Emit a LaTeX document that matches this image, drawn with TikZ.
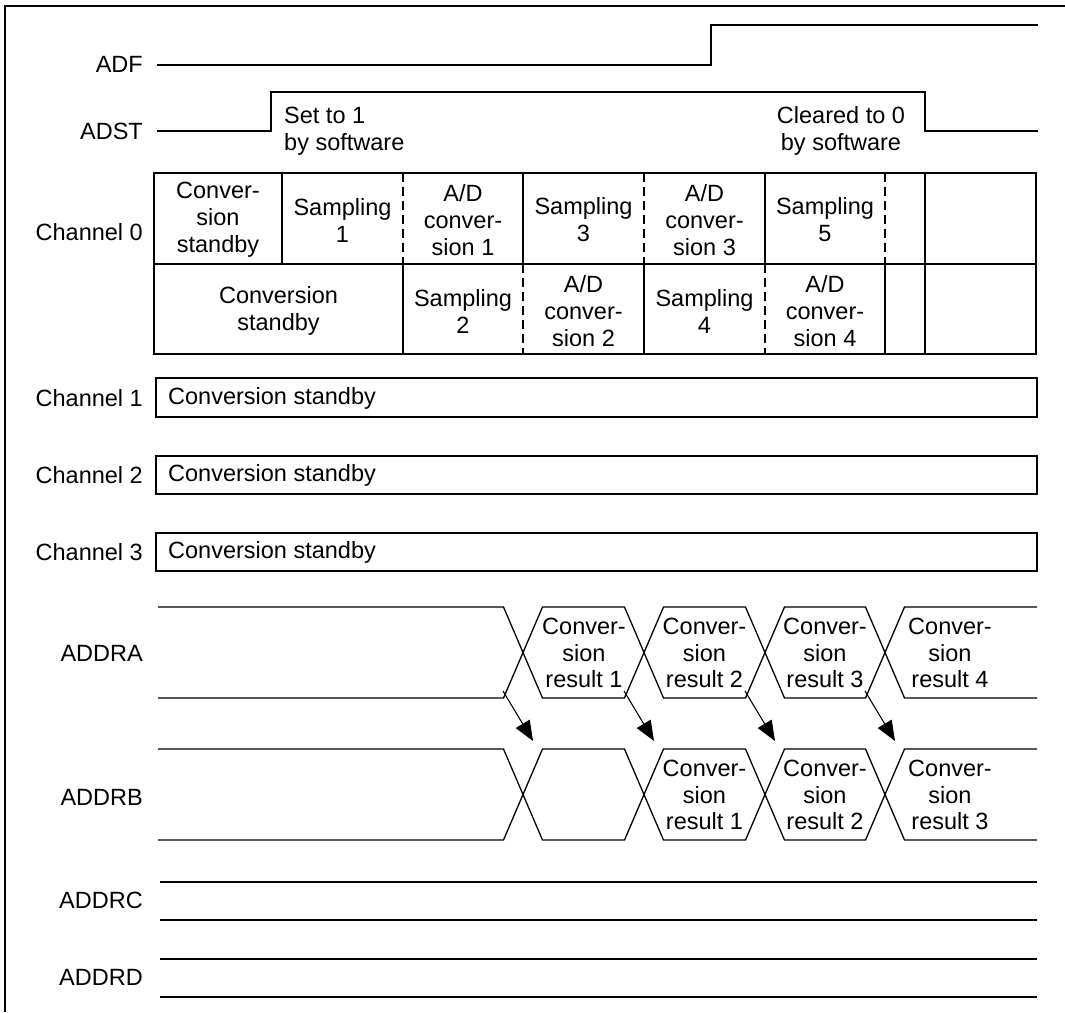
\documentclass[tikz,border=0pt]{standalone}
\usepackage{fontspec}
\setmainfont{Liberation Sans}
\usetikzlibrary{arrows.meta}
\begin{document}
\begin{tikzpicture}[x=1pt,y=-1pt,
  sig/.style={line width=1.3pt, line join=miter},
  lbl/.style={anchor=east, inner sep=0pt, font=\fontsize{23.5}{27.5}\selectfont},
  txt/.style={inner sep=0pt, align=center, font=\fontsize{23.5}{27}\selectfont},
  hx/.style={inner sep=0pt, align=center, font=\fontsize{23.5}{26.5}\selectfont},
  dsh/.style={line width=1.1pt, dash pattern=on 9pt off 5pt},
  arr/.style={line width=1.1pt, -{Triangle[length=20pt,width=16pt]}},
]
\useasboundingbox (0,0) rectangle (1065,1012);
\draw[line width=2.4pt] (5,1012) -- (5,6) -- (1065,6);

% labels
\node[lbl] (lADF) at (143,64) {ADF};
\node[lbl] (lADST) at (143,131) {ADST};
\node[lbl] (lch0) at (143,232) {Channel 0};
\node[lbl] (lch1) at (143,398) {Channel 1};
\node[lbl] (lch2) at (143,475) {Channel 2};
\node[lbl] (lch3) at (143,552) {Channel 3};
\node[lbl] (lA) at (143,653) {ADDRA};
\node[lbl] (lB) at (143,797) {ADDRB};
\node[lbl] (lC) at (143,900) {ADDRC};
\node[lbl] (lD) at (143,977) {ADDRD};

% ADF / ADST
\draw[sig] (157,65) -- (711,65) -- (711,25) -- (1038,25);
\draw[sig] (157,131) -- (271,131) -- (271,92) -- (925,92) -- (925,131) -- (1038,131);
\draw[line width=2.2pt] (551,92) -- (697,92);
\node[txt, anchor=west, align=left] (set1) at (284,131) {Set to 1\\by software};
\node[txt] (clr0) at (841,131) {Cleared to 0\\by software};

% Channel 0 table
\draw[sig] (154,173) rectangle (1036,354);
\draw[sig] (154,264) -- (1036,264);
\foreach \x in {282,523,765,925} \draw[sig] (\x,173) -- (\x,264);
\foreach \x in {403,644,885} \draw[dsh] (\x,173) -- (\x,264);
\foreach \x in {403,644,885,925} \draw[sig] (\x,264) -- (\x,354);
\foreach \x in {523,765} \draw[dsh] (\x,264) -- (\x,354);

\node[txt] (t1) at (218,220) {Conver-\\sion\\standby};
\node[txt] (t2) at (342.5,220) {Sampling\\1};
\node[txt] (t3) at (463,220) {A/D\\conver-\\sion 1};
\node[txt] (t4) at (583.5,220) {Sampling\\3};
\node[txt] (t5) at (704.5,220) {A/D\\conver-\\sion 3};
\node[txt] (t6) at (825,220) {Sampling\\5};

\node[txt] (b1) at (278.5,311) {Conversion\\standby};
\node[txt] (b2) at (463,311) {Sampling\\2};
\node[txt] (b3) at (583.5,311) {A/D\\conver-\\sion 2};
\node[txt] (b4) at (704.5,311) {Sampling\\4};
\node[txt] (b5) at (825,311) {A/D\\conver-\\sion 4};

% Channels 1-3
\draw[sig] (156,378) rectangle (1037,417);
\draw[sig] (156,456) rectangle (1037,494);
\draw[sig] (156,533) rectangle (1037,571);
\node[txt, anchor=west] (c1) at (168,398) {Conversion standby};
\node[txt, anchor=west] (c2) at (168,475) {Conversion standby};
\node[txt, anchor=west] (c3) at (168,552) {Conversion standby};

% ADDRA
\draw[sig] (158,607) -- (503.5,607) -- (542.5,698) -- (624.5,698) -- (663.5,607) -- (745.5,607) -- (784.5,698) -- (865.5,698) -- (904.5,607) -- (1037,607);
\draw[sig] (158,698) -- (503.5,698) -- (542.5,607) -- (624.5,607) -- (663.5,698) -- (745.5,698) -- (784.5,607) -- (865.5,607) -- (904.5,698) -- (1037,698);
\node[hx] (r1) at (584,653) {Conver-\\sion\\result 1};
\node[hx] (r2) at (704.5,653) {Conver-\\sion\\result 2};
\node[hx] (r3) at (825,653) {Conver-\\sion\\result 3};
\node[hx] (r4) at (950,653) {Conver-\\sion\\result 4};

% ADDRB
\draw[sig] (158,749) -- (503.5,749) -- (542.5,840) -- (624.5,840) -- (663.5,749) -- (745.5,749) -- (784.5,840) -- (865.5,840) -- (904.5,749) -- (1037,749);
\draw[sig] (158,840) -- (503.5,840) -- (542.5,749) -- (624.5,749) -- (663.5,840) -- (745.5,840) -- (784.5,749) -- (865.5,749) -- (904.5,840) -- (1037,840);
\node[hx] (s1) at (704.5,795) {Conver-\\sion\\result 1};
\node[hx] (s2) at (825,795) {Conver-\\sion\\result 2};
\node[hx] (s3) at (950,795) {Conver-\\sion\\result 3};

% arrows
\coordinate (as1) at (503,691); \coordinate (ae1) at (533,741);
\coordinate (as2) at (624,691); \coordinate (ae2) at (654,741);
\coordinate (as3) at (745,691); \coordinate (ae3) at (775,741);
\coordinate (as4) at (865,691); \coordinate (ae4) at (895,741);
\draw[arr] (as1) -- (ae1);
\draw[arr] (as2) -- (ae2);
\draw[arr] (as3) -- (ae3);
\draw[arr] (as4) -- (ae4);

% ADDRC / ADDRD
\draw[sig] (160,882) -- (1037,882);
\draw[sig] (160,920) -- (1037,920);
\draw[sig] (160,959) -- (1037,959);
\draw[sig] (160,997) -- (1037,997);
\end{tikzpicture}
\end{document}
